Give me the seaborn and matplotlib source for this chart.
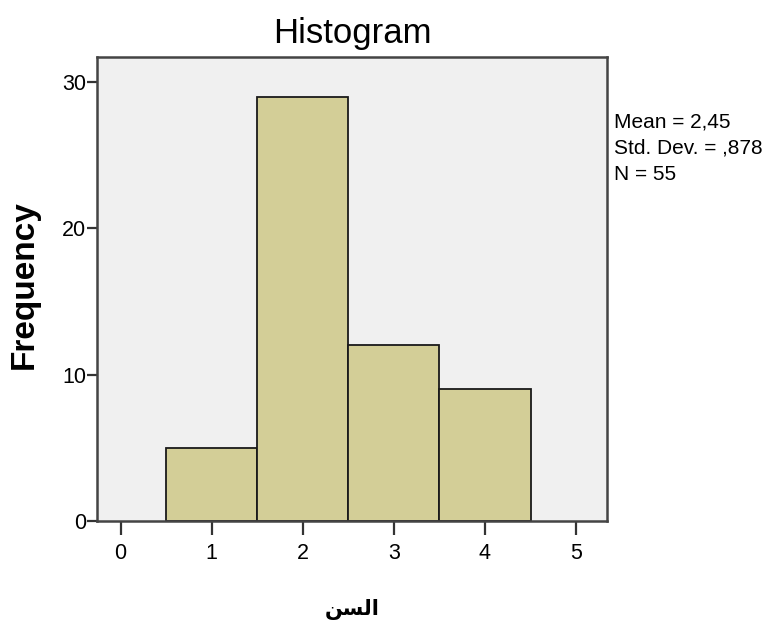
import matplotlib
matplotlib.use("Agg")
import matplotlib.pyplot as plt
import seaborn as sns
import numpy as np

# Data
ages = [1, 2, 3, 4]
counts = [5, 29, 12, 9]
x_ticks = [0, 1, 2, 3, 4, 5]
y_ticks = [0, 10, 20, 30]
title = "Histogram"
xlabel = "\uFEE6\uFEB4\uFEDF\uFE8D"  # "السن" in shaped (visual order) form
ylabel = "Frequency"
stats_text = "Mean = 2,45\nStd. Dev. = ,878\nN = 55"

sns.set_style("white")
fam = ['Liberation Sans', 'DejaVu Sans']
plt.rcParams['font.family'] = fam
plt.rcParams['text.color'] = 'black'
plt.rcParams['xtick.color'] = 'black'
plt.rcParams['ytick.color'] = 'black'
plt.rcParams['axes.labelcolor'] = 'black'

fig = plt.figure(figsize=(7.73, 6.31), dpi=100)
ax = fig.add_axes([97/773, 1-521/631, (607-97)/773, (521-57)/631])
ax.set_facecolor("#F0F0F0")

sns.histplot(x=ages, weights=counts, discrete=True, ax=ax,
             color="#D3CE97", edgecolor="#1a1a1a", linewidth=1.3, alpha=1)

ax.set_xlim(-0.26, 5.34)
ax.set_ylim(0, 31.7)
ax.set_xticks(x_ticks)
ax.set_yticks(y_ticks)
ax.tick_params(axis='x', direction='out', length=10, width=1.6, color="#333333",
               labelsize=15.5, pad=6, bottom=True)
ax.tick_params(axis='y', direction='out', length=7, width=1.6, color="#333333",
               labelsize=15.5, pad=1, left=True)
for s in ax.spines.values():
    s.set_visible(True)
    s.set_linewidth(1.8)
    s.set_color("#444444")

ax.set_title(title, fontsize=25, pad=10, family=fam)
ax.set_ylabel(ylabel, fontsize=24, fontweight='bold', family=fam)
ax.yaxis.set_label_coords(-(97-24)/510, (521-285)/464)
ax.set_xlabel(xlabel, fontsize=15, fontweight='bold', family=['DejaVu Sans'])
ax.xaxis.set_label_coords(0.5, -(610-521)/464)
ax.xaxis.label.set_va('center')
ax.yaxis.label.set_va('center')

fig.text(614/773, 1-112/631, stats_text, fontsize=15, va='top', ha='left',
         linespacing=1.5, family=fam)

fig.savefig("out.png", dpi=100, facecolor="white")
